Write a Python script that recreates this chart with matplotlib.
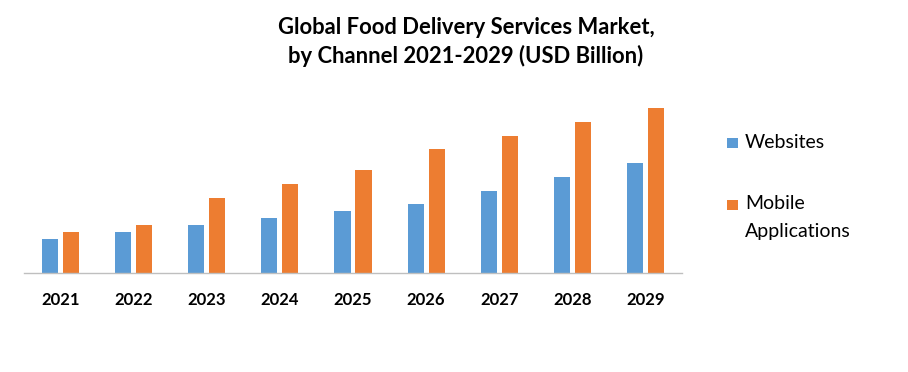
import matplotlib
matplotlib.use("Agg")
import matplotlib.pyplot as plt
import numpy as np
from matplotlib.patches import Rectangle

years = ["2021", "2022", "2023", "2024", "2025", "2026", "2027", "2028", "2029"]
websites = [34, 41, 48, 55, 62, 69, 82, 96, 110]
mobile = [41, 48, 75, 89, 103, 124, 137, 151, 165]

blue = "#5B9BD5"
orange = "#ED7D31"

plt.rcParams['font.family'] = ['Lato', 'DejaVu Sans']

W, H = 908, 372
fig = plt.figure(figsize=(W / 100, H / 100), dpi=100)
left, right, bottom, top = 24, 682, 273, 93
ax = fig.add_axes([left / W, 1 - bottom / H, (right - left) / W, (bottom - top) / H])

x = np.arange(len(years))
bw = 0.22
off = 0.144
ax.bar(x - off, websites, width=bw, color=blue)
ax.bar(x + off, mobile, width=bw, color=orange)
ax.set_xlim(-0.5, len(years) - 0.5)
ax.set_ylim(0, bottom - top)
for s in ["top", "right", "left"]:
    ax.spines[s].set_visible(False)
ax.spines["bottom"].set_color("#BFBFBF")
ax.spines["bottom"].set_linewidth(1.0)
ax.set_yticks([])
ax.set_xticks(x)
ax.set_xticklabels(years, fontsize=12, fontweight="bold")
ax.tick_params(axis="x", length=0, pad=14)

fig.text(466 / W, 1 - 42 / H, "Global Food Delivery Services Market,\nby Channel 2021-2029 (USD Billion)",
         ha="center", va="center", fontsize=15.8, fontweight="bold", linespacing=1.4)

# legend
fig.add_artist(Rectangle((727 / W, 1 - 148 / H), 11 / W, 10 / H, transform=fig.transFigure,
                         color=blue, lw=0))
fig.text(745 / W, 1 - 142 / H, "Websites", ha="left", va="center", fontsize=14)
fig.add_artist(Rectangle((727 / W, 1 - 210 / H), 11 / W, 10 / H, transform=fig.transFigure,
                         color=orange, lw=0))
fig.text(745 / W, 1 - 204 / H, "Mobile", ha="left", va="center", fontsize=14)
fig.text(745 / W, 1 - 231 / H, "Applications", ha="left", va="center", fontsize=14)

fig.savefig("out.png", dpi=100)
